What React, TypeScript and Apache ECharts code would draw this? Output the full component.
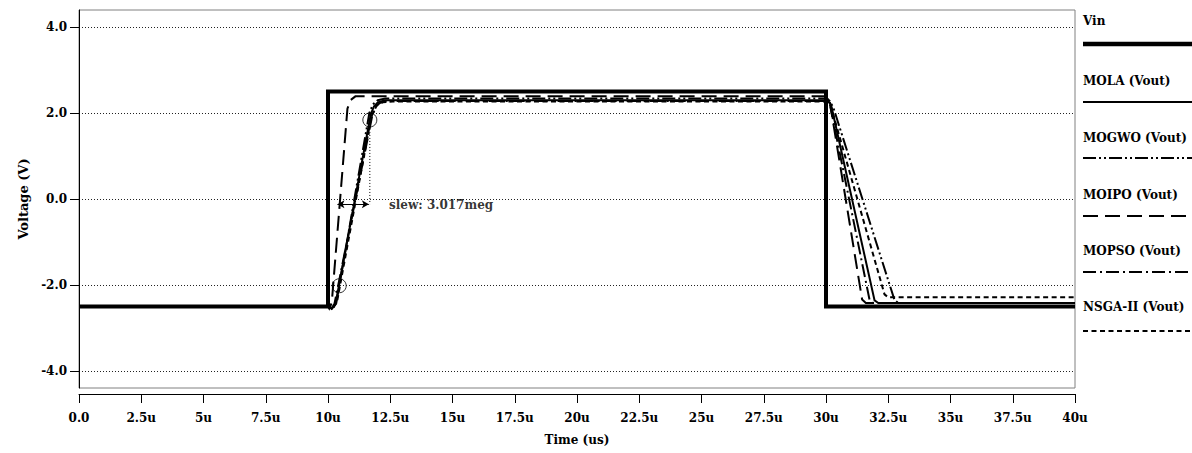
import React, { useEffect, useRef } from "react";
import * as echarts from "echarts";

// ---------- data ----------
const seriesNames = [
  "Vin",
  "MOLA (Vout)",
  "MOGWO (Vout)",
  "MOIPO (Vout)",
  "MOPSO (Vout)",
  "NSGA-II (Vout)",
];

const voltTicks = [-4, -2, 0, 2, 4];

const vin = [
  [0, -2.5], [10, -2.5], [10, 2.5], [30, 2.5], [30, -2.5], [40, -2.5],
];

const mola = [
  [0, -2.5], [10, -2.5], [10.15, -2.56], [10.3, -2.45], [11.72, 1.98], [11.85, 2.16],
  [12.0, 2.25], [12.3, 2.3], [30.05, 2.3], [30.2, 2.2], [31.95, -2.36], [32.1, -2.42], [40, -2.42],
];

const mogwo = [
  [0, -2.5], [10, -2.5], [10.18, -2.55], [10.33, -2.43], [11.66, 2.0], [11.8, 2.2],
  [12.0, 2.3], [12.3, 2.34], [30.05, 2.34], [30.15, 2.28], [30.3, 2.12], [32.75, -2.35],
  [32.9, -2.42], [40, -2.42],
];

const moipo = [
  [0, -2.5], [10, -2.5], [10.05, -2.55], [10.15, -2.42], [10.78, 2.1], [10.9, 2.3],
  [11.1, 2.39], [30.05, 2.39], [30.15, 2.27], [31.45, -2.34], [31.6, -2.42], [40, -2.42],
];

const mopso = [
  [0, -2.5], [10, -2.5], [10.14, -2.55], [10.26, -2.44], [11.78, 1.95], [11.95, 2.18],
  [12.15, 2.26], [12.5, 2.28], [30.05, 2.28], [30.15, 2.22], [31.75, -2.35], [31.9, -2.42], [40, -2.42],
];

const nsga = [
  [0, -2.5], [10, -2.5], [10.2, -2.54], [10.36, -2.4], [11.74, 1.92], [11.95, 2.17],
  [12.2, 2.25], [12.6, 2.27], [30.05, 2.27], [30.2, 2.15], [32.35, -2.22], [32.5, -2.29], [40, -2.29],
];

const slewMarkers = [[10.45, -2.02], [11.68, 1.84]];
const slewGuide = [[11.68, 1.84], [11.68, -0.12]];
const slewArrow = [[10.38, -0.12], [11.64, -0.12]];
const slewLabelAt = [[12.45, -0.15]];
const slewText = "slew: 3.017meg";

// ---------- styles ----------
const FONT = '"DejaVu Serif", "Liberation Serif", serif';
const dashes: any[] = [
  "solid",
  "solid",
  [13, 3, 2, 3, 2, 3],
  [15, 7],
  [13, 4, 2, 4],
  [5, 3.5],
];
const plotWidths = [4, 2, 2, 2, 2, 2];
const legendWidths = [4.5, 2, 2, 2, 2, 2];
const legendTextY = [21, 81, 138, 195, 251, 307];
const legendLineY = [44, 102, 158, 216, 272, 331];

const curves = [vin, mola, mogwo, moipo, mopso, nsga];

function buildOption() {
  const lineSeries = curves.map((d, i) => ({
    name: seriesNames[i],
    type: "line",
    data: d,
    showSymbol: false,
    symbol: "none",
    z: i === 0 ? 5 : 3,
    lineStyle: {
      color: "#000",
      width: plotWidths[i],
      type: dashes[i],
      join: "miter",
      cap: "butt",
    },
  }));

  const graphics: any[] = [];
  seriesNames.forEach((name, i) => {
    graphics.push({
      type: "text",
      x: 1083,
      y: legendTextY[i],
      style: {
        text: name,
        fontFamily: FONT,
        fontWeight: "bold",
        fontSize: 12,
        fill: "#000",
        verticalAlign: "middle",
        align: "left",
      },
    });
    graphics.push({
      type: "line",
      shape: { x1: 1083, y1: legendLineY[i], x2: 1192, y2: legendLineY[i] },
      style: {
        stroke: "#000",
        lineWidth: legendWidths[i],
        lineDash: Array.isArray(dashes[i]) ? dashes[i] : null,
      },
    });
  });

  return {
    animation: false,
    backgroundColor: "#fff",
    grid: {
      left: 79,
      right: 117,
      top: 10,
      bottom: 65,
      show: true,
      borderColor: "#808080",
      borderWidth: 1,
      backgroundColor: "transparent",
    },
    xAxis: {
      type: "value",
      min: 0,
      max: 40,
      interval: 2.5,
      offset: 6,
      name: "Time (us)",
      nameLocation: "middle",
      nameGap: 40,
      nameTextStyle: { fontFamily: FONT, fontWeight: "bold", fontSize: 12, color: "#000" },
      axisLine: { show: true, onZero: false, lineStyle: { color: "#000", width: 1 } },
      axisTick: { show: true, length: 9, inside: false, lineStyle: { color: "#000" } },
      axisLabel: {
        margin: 18,
        fontFamily: FONT,
        fontWeight: "bold",
        fontSize: 12,
        color: "#000",
        formatter: (v: number) => (v === 0 ? "0.0" : `${v}u`),
      },
      splitLine: { show: false },
    },
    yAxis: {
      type: "value",
      min: -4.4,
      max: 4.4,
      name: "Voltage (V)",
      nameLocation: "middle",
      nameGap: 46,
      nameRotate: 90,
      nameTextStyle: { fontFamily: FONT, fontWeight: "bold", fontSize: 13, color: "#000" },
      axisLine: { show: true, onZero: false, lineStyle: { color: "#000", width: 1 } },
      axisTick: {
        show: true,
        length: 9,
        customValues: voltTicks,
        lineStyle: { color: "#000" },
      },
      axisLabel: {
        margin: 12,
        customValues: voltTicks,
        fontFamily: FONT,
        fontWeight: "bold",
        fontSize: 12,
        color: "#000",
        formatter: (v: number) => v.toFixed(1),
      },
      splitLine: {
        show: true,
        lineStyle: { color: "#222", width: 1, type: [1, 2] },
      },
    },
    series: [
      ...lineSeries,
      {
        name: "slewMarkers",
        type: "scatter",
        data: slewMarkers,
        symbol: "circle",
        symbolSize: 14,
        z: 6,
        itemStyle: { color: "rgba(0,0,0,0)", borderColor: "#000", borderWidth: 1 },
      },
      {
        name: "slewGuide",
        type: "line",
        data: slewGuide,
        showSymbol: false,
        symbol: "none",
        z: 6,
        lineStyle: { color: "#000", width: 1, type: [1, 2] },
        markLine: {
          silent: true,
          symbol: ["arrow", "arrow"],
          symbolSize: [6, 7],
          label: { show: false },
          lineStyle: { color: "#000", width: 1, type: "solid" },
          data: [[{ coord: slewArrow[0] }, { coord: slewArrow[1] }]],
        },
      },
      {
        name: "slewLabel",
        type: "scatter",
        data: slewLabelAt,
        symbolSize: 0,
        z: 6,
        label: {
          show: true,
          position: "right",
          distance: 0,
          formatter: slewText,
          fontFamily: FONT,
          fontWeight: "bold",
          fontSize: 12,
          color: "#000",
        },
      },
    ],
    graphic: graphics,
  };
}

export default function App() {
  const ref = useRef<HTMLDivElement>(null);
  useEffect(() => {
    document.body.style.margin = "0";
    const chart = echarts.init(ref.current!, null, { renderer: "svg" });
    chart.setOption(buildOption() as any);
    return () => chart.dispose();
  }, []);
  return <div ref={ref} style={{ width: 1192, height: 453 }} />;
}
